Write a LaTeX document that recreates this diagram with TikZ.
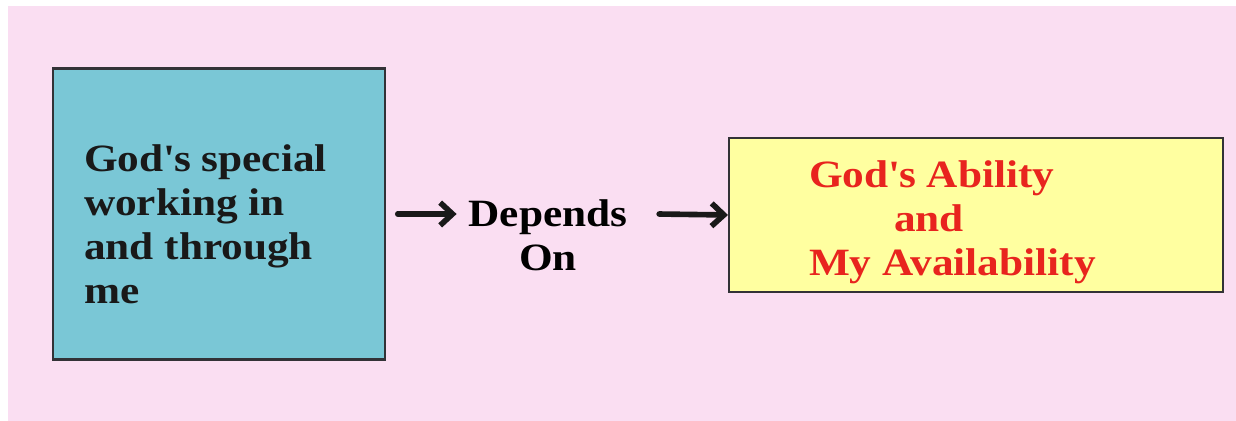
\documentclass[tikz,border=0pt]{standalone}
\usepackage{fontspec}
\setmainfont{Liberation Serif}[FakeStretch=1.12]
\usetikzlibrary{arrows.meta}
\definecolor{bgpink}{RGB}{250,222,242}
\definecolor{boxblue}{RGB}{122,199,214}
\definecolor{boxyellow}{RGB}{255,255,160}
\definecolor{boxline}{RGB}{50,50,55}
\definecolor{textred}{RGB}{232,36,30}
\begin{document}
\begin{tikzpicture}[x=0.02cm,y=-0.02cm,line width=2.3pt]
	\def \midline{214}
	\tikzstyle{b-node}=[rectangle,draw=boxline,line width=1.2pt,inner sep=0pt]
	\tikzstyle{w-text}=[font=\bfseries\fontsize{22}{25}\selectfont,inner sep=0pt]
	\tikzstyle{flow}=[-{Straight Barb[length=7pt,width=13pt]},draw=black!90,line width=3.2pt,line cap=round,shorten <=1pt]

	% background
	\useasboundingbox (0,0) rectangle (1236,421);
	\fill[bgpink] (8,6) rectangle (1236,421);

	% boxes
	\node[b-node,fill=boxblue,minimum width=6.64cm,minimum height=5.82cm] 	(working)	at (219,\midline) {};
	\node[b-node,fill=boxyellow,minimum width=9.88cm,minimum height=3.08cm] 	(ability)	at (976,215) {};

	% box texts
	\node[w-text,text=black!90,align=left,anchor=west] 	(workingtext)	at (82,224)
		{God\textquotesingle s special\\working in\\and through\\me};
	\node[w-text,text=textred,align=left,anchor=west] 	(abilitytext)	at (807,222)
		{God\textquotesingle s Ability\\\hspace*{1.7cm}and\\My Availability};

	% middle label
	\node[w-text,align=center,anchor=north] 	(depends)	at (548,198)	{Depends\\On};

	\draw[flow] ([xshift=10*0.02cm]working.east) -- ([xshift=-10*0.02cm]working.east -| depends.west);
	\draw[flow] ([xshift=28*0.02cm]working.east -| depends.east) -- (ability.west);
\end{tikzpicture}
\end{document}
